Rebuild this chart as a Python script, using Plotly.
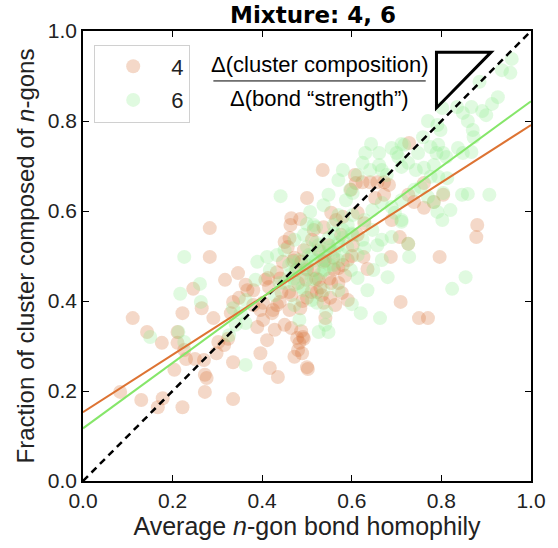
import plotly.graph_objects as go

# ---- data ----
x4 = [0.283,0.283,0.346,0.317,0.363,0.367,0.246,0.335,0.265,0.222,0.291,0.111,0.143,0.211,0.176,0.211,
      0.226,0.230,0.250,0.270,0.335,0.298,0.302,0.315,0.324,0.204,0.272,0.276,0.396,0.417,0.435,0.472,
      0.489,0.500,0.478,0.493,0.083,0.130,0.178,0.167,0.272,0.222,0.335,0.380,0.396,0.389,0.402,0.424,
      0.433,0.428,0.411,0.450,0.457,0.461,0.472,0.487,0.433,0.407,0.413,0.443,0.465,0.348,0.402,0.439,
      0.461,0.485,0.500,0.522,0.526,0.422,0.450,0.465,0.487,0.330,0.502,0.491,0.483,0.480,0.533,0.552,
      0.537,0.578,0.585,0.635,0.626,0.707,0.726,0.687,0.796,0.709,0.750,0.770,0.541,0.880,0.878,0.728,
      0.535,0.500,0.607,0.609,0.624,0.641,0.657,0.672,0.683,0.598,0.652,0.672,0.726,0.739,0.761,0.783,
      0.804,0.689,0.554,0.565,0.580,0.613,0.628,0.537,0.761,0.465,0.485,0.463,0.511,0.526,0.548,0.559,
      0.537,0.570,0.515,0.498,0.554,0.591,0.602,0.576,0.493,0.476,0.515,0.613,0.446,0.380,0.563,0.591,
      0.415,0.500,0.520,0.540,0.560,0.480,0.460,0.530,0.550,0.580,0.510,0.570,0.490,0.440,0.600,0.470]
y4 = [0.562,0.498,0.462,0.447,0.436,0.424,0.427,0.398,0.384,0.373,0.362,0.362,0.331,0.331,0.307,0.307,
      0.291,0.271,0.271,0.269,0.264,0.284,0.309,0.302,0.316,0.247,0.236,0.229,0.284,0.251,0.231,0.276,
      0.284,0.253,0.318,0.316,0.198,0.180,0.184,0.164,0.198,0.164,0.182,0.391,0.380,0.342,0.358,0.380,
      0.391,0.336,0.313,0.531,0.520,0.540,0.496,0.487,0.464,0.447,0.451,0.420,0.413,0.407,0.396,0.398,
      0.380,0.384,0.407,0.420,0.447,0.373,0.347,0.340,0.333,0.373,0.249,0.320,0.307,0.291,0.413,0.407,
      0.396,0.418,0.456,0.471,0.498,0.542,0.527,0.498,0.498,0.398,0.362,0.362,0.362,0.569,0.542,0.751,
      0.691,0.629,0.680,0.662,0.664,0.664,0.664,0.664,0.658,0.647,0.629,0.636,0.636,0.620,0.607,0.620,
      0.636,0.580,0.596,0.580,0.587,0.596,0.573,0.564,0.662,0.584,0.582,0.569,0.536,0.513,0.524,0.496,
      0.487,0.473,0.469,0.447,0.440,0.491,0.524,0.547,0.513,0.469,0.558,0.547,0.487,0.424,0.391,0.402,
      0.431,0.470,0.450,0.490,0.470,0.440,0.420,0.430,0.450,0.480,0.420,0.440,0.400,0.450,0.500,0.490]

x6 = [0.226,0.261,0.217,0.263,0.150,0.213,0.226,0.363,0.335,0.352,0.363,0.441,0.500,0.520,0.957,0.935,
      0.954,0.926,0.885,0.867,0.891,0.900,0.835,0.848,0.859,0.913,0.870,0.872,0.802,0.770,0.759,0.791,
      0.798,0.776,0.793,0.804,0.811,0.837,0.848,0.867,0.717,0.748,0.661,0.689,0.704,0.711,0.726,0.743,
      0.761,0.783,0.776,0.793,0.813,0.804,0.846,0.859,0.907,0.643,0.630,0.661,0.667,0.678,0.739,0.754,
      0.770,0.783,0.791,0.820,0.711,0.700,0.789,0.596,0.602,0.587,0.667,0.689,0.711,0.696,0.711,0.624,
      0.641,0.580,0.613,0.570,0.646,0.628,0.602,0.559,0.580,0.602,0.624,0.646,0.667,0.689,0.711,0.728,
      0.648,0.680,0.613,0.600,0.620,0.663,0.543,0.541,0.526,0.548,0.522,0.802,0.854,0.824,0.726,0.483,
      0.504,0.526,0.548,0.570,0.580,0.559,0.537,0.515,0.493,0.472,0.461,0.439,0.417,0.411,0.433,0.389,
      0.450,0.472,0.493,0.515,0.591,0.613,0.598,0.570,0.537,0.511,0.472,0.428,0.385,0.363,0.483,0.570,
      0.537,0.507,0.667,0.628,0.552,0.533,0.498,0.467,0.635,0.657,0.548,0.341,0.326,
      0.490,0.500,0.510,0.520,0.530,0.540,0.550,0.560,0.570,0.550,0.530,0.510,0.480,0.470,0.560,0.580,
      0.590,0.520,0.500,0.460,0.540,0.570,0.600,0.490,0.450]
y6 = [0.498,0.438,0.416,0.398,0.320,0.331,0.309,0.258,0.384,0.373,0.351,0.633,0.571,0.564,0.938,0.913,
      0.907,0.853,0.887,0.831,0.822,0.813,0.831,0.818,0.800,0.838,0.780,0.764,0.829,0.800,0.764,0.791,
      0.780,0.742,0.747,0.729,0.720,0.740,0.729,0.731,0.747,0.729,0.729,0.740,0.720,0.698,0.707,0.691,
      0.696,0.702,0.676,0.676,0.673,0.640,0.636,0.638,0.636,0.749,0.729,0.702,0.691,0.680,0.647,0.653,
      0.631,0.620,0.598,0.602,0.749,0.729,0.729,0.647,0.640,0.624,0.618,0.609,0.624,0.596,0.580,0.707,
      0.691,0.691,0.680,0.669,0.602,0.580,0.591,0.569,0.558,0.547,0.536,0.558,0.536,0.542,0.576,0.498,
      0.469,0.453,0.451,0.393,0.373,0.362,0.376,0.347,0.331,0.331,0.396,0.580,0.453,0.427,0.527,0.491,
      0.502,0.524,0.540,0.524,0.502,0.480,0.469,0.447,0.424,0.436,0.458,0.440,0.469,0.498,0.502,0.487,
      0.513,0.536,0.547,0.569,0.569,0.502,0.469,0.424,0.424,0.402,0.391,0.413,0.447,0.402,0.358,0.591,
      0.613,0.598,0.491,0.518,0.513,0.491,0.473,0.487,0.424,0.524,0.636,0.347,0.324,
      0.460,0.480,0.500,0.490,0.510,0.500,0.520,0.510,0.530,0.480,0.460,0.450,0.470,0.450,0.550,0.540,
      0.520,0.530,0.520,0.480,0.470,0.490,0.550,0.430,0.440]

# linear fits shown in the reference (intercept, slope)
fit4 = (0.153, 0.638)
fit6 = (0.117, 0.727)
fit_x = [0.0, 1.0]
diag = [0.0, 1.0]

c4_line = "#dd7333"
c6_line = "#86e66a"
c4_mark = "#d8733a"
c6_mark = "#90ee90"

FONT = "Liberation Sans"

fig = go.Figure()
fig.add_trace(go.Scatter(x=x4, y=y4, mode="markers", name="4", legendgroup="a",
                         marker=dict(size=14, color=c4_mark, opacity=0.28, line=dict(width=0))))
fig.add_trace(go.Scatter(x=x6, y=y6, mode="markers", name="6", legendgroup="b",
                         marker=dict(size=14, color=c6_mark, opacity=0.28, line=dict(width=0))))
fig.add_trace(go.Scatter(x=diag, y=diag, mode="lines", showlegend=False,
                         line=dict(color="black", width=2.5, dash="7px,5px")))
fig.add_trace(go.Scatter(x=fit_x, y=[fit4[0] + fit4[1] * v for v in fit_x], mode="lines",
                         showlegend=False, line=dict(color=c4_line, width=2)))
fig.add_trace(go.Scatter(x=fit_x, y=[fit6[0] + fit6[1] * v for v in fit_x], mode="lines",
                         showlegend=False, line=dict(color=c6_line, width=2)))

axis_common = dict(range=[0, 1], showgrid=False, zeroline=False, showline=True, linecolor="black",
                   linewidth=1.5, mirror="allticks", ticks="inside", ticklen=6, tickcolor="black",
                   tickwidth=1, tickvals=[0, 0.2, 0.4, 0.6, 0.8, 1.0], tickformat=".1f",
                   tickfont=dict(family=FONT, size=21, color="#222222"))

fig.update_layout(
    width=558, height=548,
    margin=dict(l=83, r=15, t=31, b=67),
    paper_bgcolor="white", plot_bgcolor="white",
    title=dict(text="<b>Mixture: 4, 6</b>", x=0.561, xanchor="center", y=0.972, yanchor="middle",
               font=dict(family="DejaVu Sans", size=23, color="black")),
    xaxis=dict(axis_common, title=dict(text="Average <i>n</i>-gon bond homophily", standoff=4,
                                       font=dict(family=FONT, size=25, color="#222222"))),
    yaxis=dict(axis_common, title=dict(text="Fraction of cluster composed of <i>n</i>-gons", standoff=6,
                                       font=dict(family=FONT, size=24, color="#222222"))),
    legend=dict(x=0.025, y=0.97, xanchor="left", yanchor="top", bgcolor="white",
                bordercolor="#d0d0d0", borderwidth=1, itemwidth=66, tracegroupgap=2,
                font=dict(family=FONT, size=22, color="#222222")),
    showlegend=True,
)

# fraction annotation
fig.add_annotation(x=0.528, y=0.925, xref="x", yref="y", text="Δ(cluster composition)", showarrow=False,
                   font=dict(family=FONT, size=22, color="black"))
fig.add_annotation(x=0.528, y=0.851, xref="x", yref="y", text="Δ(bond “strength”)", showarrow=False,
                   font=dict(family=FONT, size=22, color="black"))
fig.add_shape(type="line", xref="x", yref="y", x0=0.291, x1=0.765, y0=0.889, y1=0.889,
              line=dict(color="black", width=1))
fig.add_shape(type="path", xref="x", yref="y",
              path="M 0.789 0.953 L 0.911 0.953 L 0.789 0.829 Z",
              line=dict(color="black", width=3))

fig.write_html("out.html")
